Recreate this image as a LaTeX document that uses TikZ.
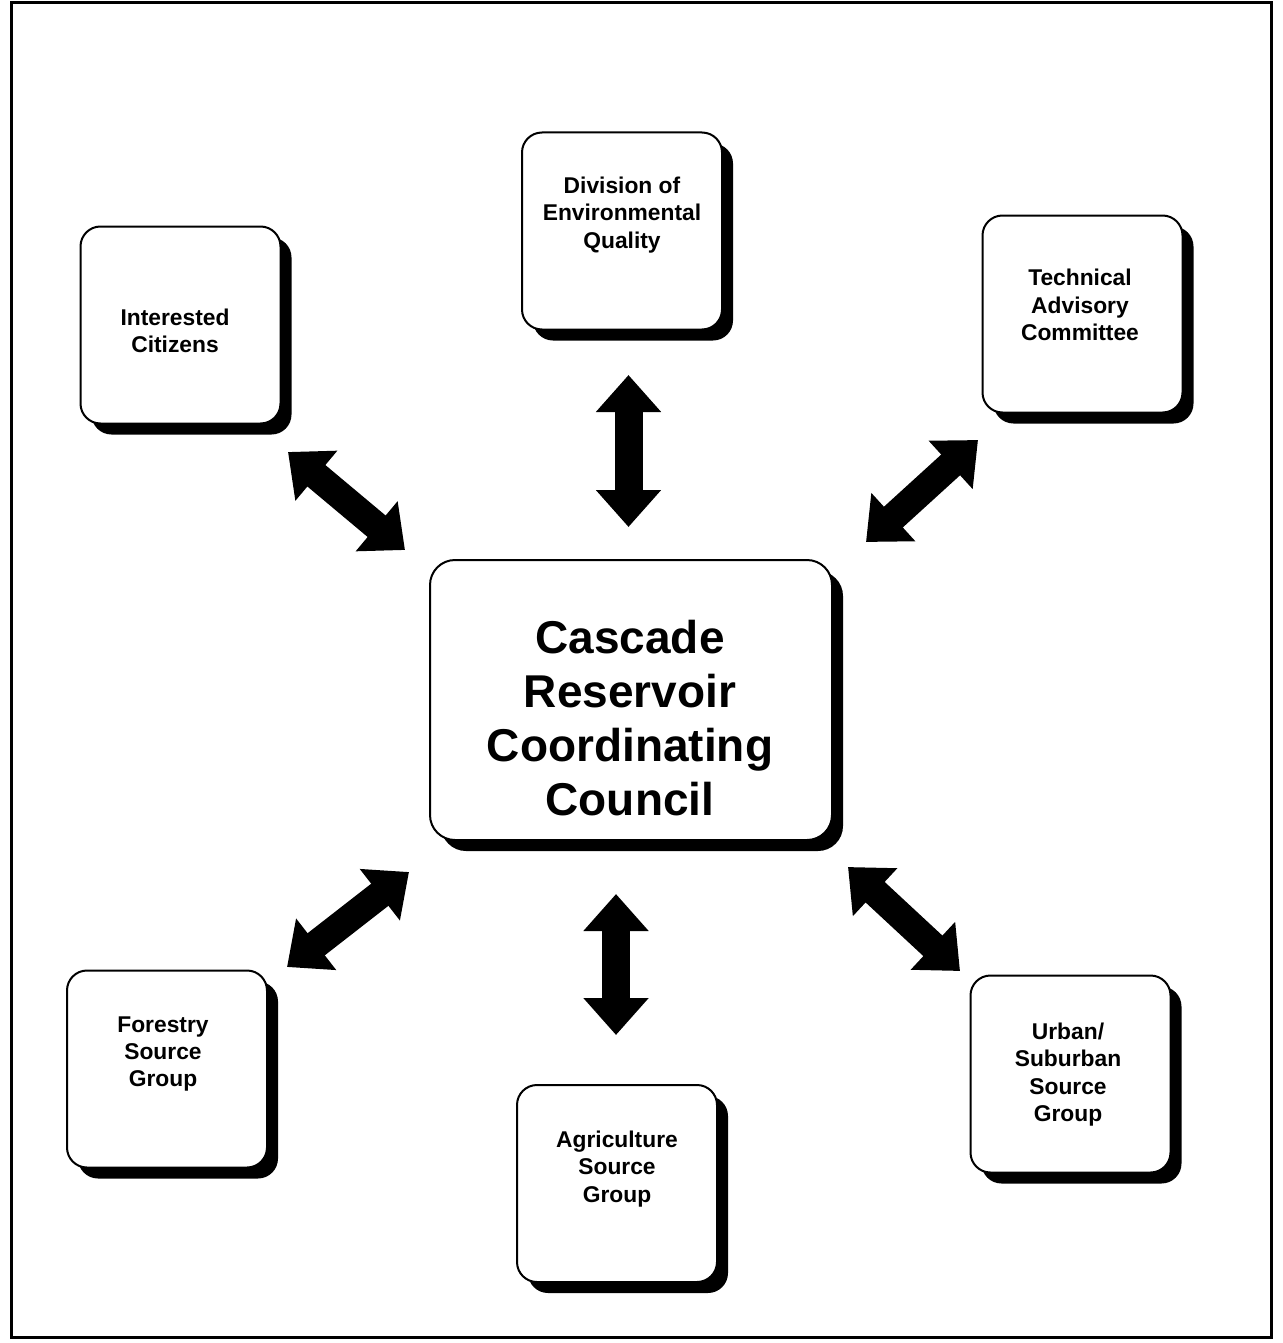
\documentclass[tikz,border=0pt]{standalone}
\usepackage{fontspec}
\setmainfont{Liberation Sans}
\usetikzlibrary{arrows.meta,shadows}

\tikzset{
  box/.style={draw, line width=1pt, rounded corners=10pt, fill=white, inner sep=0pt,
    minimum width=100pt, minimum height=98.5pt,
    drop shadow={shadow xshift=5.5pt, shadow yshift=-5.5pt, fill=black, opacity=1}},
  txt/.style={align=center, font=\fontsize{11.4}{13.6}\selectfont\bfseries},
  bigtxt/.style={align=center, font=\fontsize{23}{27}\selectfont\bfseries},
  dbl/.style={line width=14pt,
    {Triangle[width=31.5pt,length=18.5pt]}-{Triangle[width=31.5pt,length=18.5pt]}}
}

\begin{document}
\begin{tikzpicture}[x=0.5pt,y=-0.5pt]
\useasboundingbox (0,0) rectangle (1282,1343);
\draw[line width=1.5pt] (11,3) rectangle (1271,1337);

\node[box] (div) at (622,231) {};
\node[box] (cit) at (180.5,325) {};
\node[box] (tac) at (1082.5,314) {};
\node[box, minimum width=201pt, minimum height=140pt, rounded corners=12.5pt] (ccc) at (631,700) {};
\node[box] (fsg) at (167,1069) {};
\node[box] (asg) at (617,1183.5) {};
\node[box] (usg) at (1070.5,1074) {};

\node[txt] (div_t) at (622,215) {Division of\\Environmental\\Quality};
\node[txt] (cit_t) at (175,331) {Interested\\Citizens};
\node[txt] (tac_t) at (1080,305) {Technical\\Advisory\\Committee};
\node[bigtxt] (ccc_t) at (630,718) {Cascade\\Reservoir\\Coordinating\\Council};
\node[txt] (fsg_t) at (163,1054) {Forestry\\Source\\Group};
\node[txt] (asg_t) at (617,1169) {Agriculture\\Source\\Group};
\node[txt] (usg_t) at (1068,1074.5) {Urban/\\Suburban\\Source\\Group};

\coordinate (a_1) at (628.5,375);
\coordinate (a_2) at (628.5,527);
\coordinate (b_1) at (288,452);
\coordinate (b_2) at (405,550);
\coordinate (c_1) at (978,440);
\coordinate (c_2) at (866,542);
\coordinate (d_1) at (409,872);
\coordinate (d_2) at (287,967);
\coordinate (e_1) at (616,894);
\coordinate (e_2) at (616,1035);
\coordinate (f_1) at (848,867);
\coordinate (f_2) at (960,971);

\draw[dbl] (a_1) -- (a_2);
\draw[dbl] (b_1) -- (b_2);
\draw[dbl] (c_1) -- (c_2);
\draw[dbl] (d_1) -- (d_2);
\draw[dbl] (e_1) -- (e_2);
\draw[dbl] (f_1) -- (f_2);

\end{tikzpicture}
\end{document}
